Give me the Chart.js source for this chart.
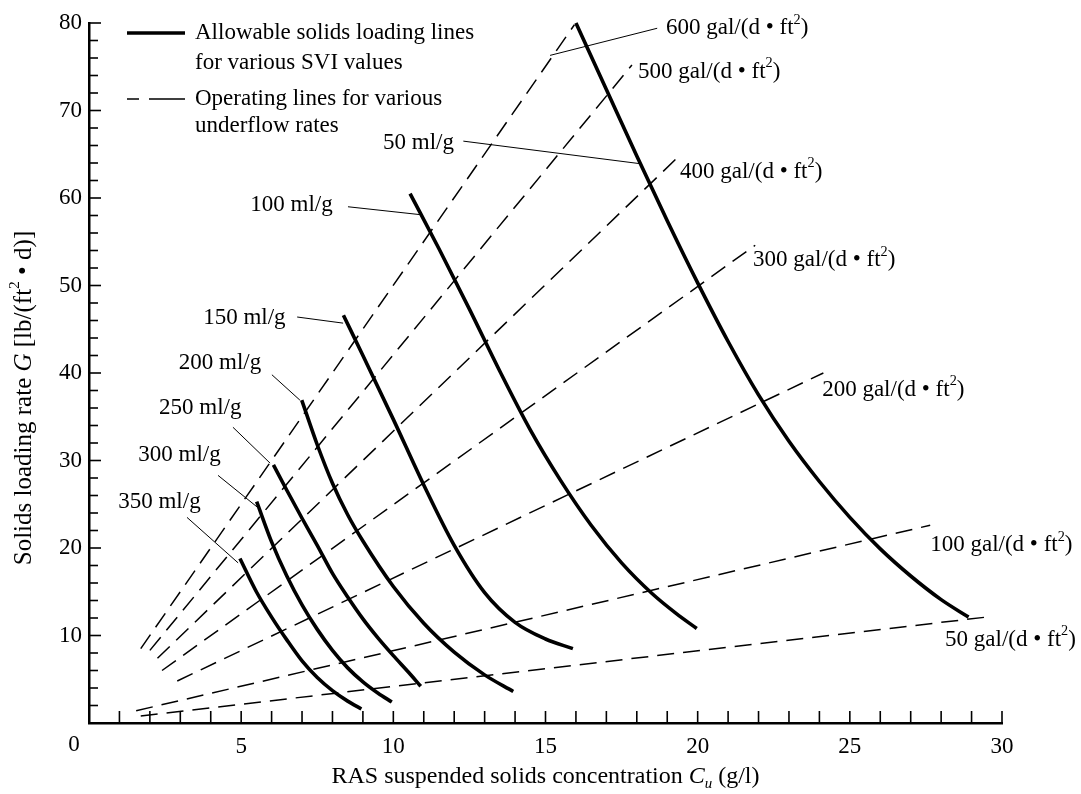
<!DOCTYPE html>
<html><head><meta charset="utf-8">
<script src="https://cdn.jsdelivr.net/npm/chart.js@4.4.0/dist/chart.umd.min.js"></script>
<style>html,body{margin:0;padding:0;background:#fff}#wrap{width:1081px;height:794px}</style>
</head><body><div id="wrap"><canvas id="c" width="1081" height="794"></canvas></div>
<script>
const FONT = '"Liberation Serif", "DejaVu Serif", serif';
const FS = 23;

// Allowable solids loading lines (SVI curves): x = Cu (g/l), y = G lb/(ft2 d)
const svi50x  = [16.0, 17.0, 18.0, 19.0, 20.0, 21.0, 22.0, 23.0, 24.0, 25.0, 26.0, 27.0, 28.0, 28.9];
const svi50y  = [80.0, 72.4, 64.8, 57.4, 50.3, 43.6, 37.5, 32.2, 27.6, 23.5, 19.9, 16.8, 14.1, 12.1];
const svi100x = [10.55, 11.5, 12.5, 13.5, 14.5, 15.5, 16.5, 17.5, 18.5, 19.3, 19.97];
const svi100y = [60.5, 54.2, 47.3, 40.2, 33.5, 27.7, 22.6, 18.3, 14.8, 12.5, 10.8];
const svi150x = [8.36, 9.0, 10.0, 11.0, 12.0, 13.0, 14.0, 15.0, 15.9];
const svi150y = [46.6, 42.0, 34.7, 27.2, 20.3, 14.9, 11.5, 9.6, 8.5];
const svi200x = [6.99, 7.5, 8.0, 8.5, 9.0, 10.0, 11.0, 12.0, 13.0, 13.94];
const svi200y = [36.9, 31.8, 27.4, 23.8, 20.8, 15.6, 11.4, 8.1, 5.5, 3.6];
const svi250x = [6.06, 6.5, 7.0, 7.5, 8.0, 8.5, 9.0, 9.5, 10.0, 10.5, 10.9];
const svi250y = [29.5, 26.6, 23.4, 20.3, 17.1, 14.4, 11.9, 9.7, 7.7, 5.8, 4.2];
const svi300x = [5.51, 6.0, 6.5, 7.0, 7.5, 8.0, 8.5, 9.0, 9.5, 9.95];
const svi300y = [25.3, 20.7, 16.8, 13.5, 10.7, 8.3, 6.3, 4.7, 3.4, 2.4];
const svi350x = [4.96, 5.5, 6.0, 6.5, 7.0, 7.5, 8.0, 8.5, 8.95];
const svi350y = [18.8, 15.0, 12.1, 9.5, 7.1, 5.2, 3.7, 2.5, 1.6];

// Operating lines (underflow rates, gal/(d ft2)): start and end points
const opRates  = [600, 500, 400, 300, 200, 100, 50];
const opStartX = [1.7, 2.0, 2.25, 2.4, 2.9, 1.55, 1.7];
const opStartY = [8.5, 8.3, 7.4, 6.0, 4.8, 1.4, 0.8];
const opEndX   = [15.95, 17.84, 19.42, 21.89, 24.13, 27.64, 29.6];
const opEndY   = [79.8, 75.2, 64.9, 54.6, 40.0, 22.6, 12.15];
const opLabelX = [18.96, 18.04, 19.42, 21.82, 24.09, 27.64, 28.13];
const opLabelY = [79.4, 74.4, 63.0, 52.9, 38.1, 20.3, 9.5];
// leader for the 600 label
const lead600X = [18.67, 15.15];
const lead600Y = [79.4, 76.3];

// SVI labels and leader lines
const sviLabels = ['50 ml/g', '100 ml/g', '150 ml/g', '200 ml/g', '250 ml/g', '300 ml/g', '350 ml/g'];
const sviLabelX = [9.66, 5.3, 3.75, 2.95, 2.3, 1.62, 0.96];
const sviLabelY = [66.3, 59.2, 46.3, 41.1, 36.0, 30.6, 25.3];
const sviLeadX0 = [12.3, 8.51, 6.84, 6.01, 4.73, 4.24, 3.22];
const sviLeadY0 = [66.5, 59.0, 46.4, 39.8, 33.8, 28.3, 23.5];
const sviLeadX1 = [18.16, 10.88, 8.35, 6.93, 5.95, 5.52, 4.9];
const sviLeadY1 = [63.9, 58.1, 45.7, 36.9, 29.7, 24.7, 18.3];

const xMin = 0, xMax = 30, xStep = 1, xLabelEvery = 5;
const yMin = 0, yMax = 80, yStep = 2, yLabelEvery = 10;

const pts = (xs, ys) => xs.map((x, i) => ({x, y: ys[i]}));

const datasets = [];
const sviSets = [[svi50x, svi50y], [svi100x, svi100y], [svi150x, svi150y], [svi200x, svi200y],
                 [svi250x, svi250y], [svi300x, svi300y], [svi350x, svi350y]];
sviSets.forEach(([xs, ys]) => datasets.push({
  data: pts(xs, ys), showLine: true, borderColor: '#000', borderWidth: 3.6,
  pointRadius: 0, cubicInterpolationMode: 'monotone', fill: false, clip: false
}));
opRates.forEach((r, i) => datasets.push({
  data: pts([opStartX[i], opEndX[i]], [opStartY[i], opEndY[i]]), showLine: true,
  borderColor: '#000', borderWidth: 1.5, borderDash: [17, 9], pointRadius: 0, clip: false
}));
sviLabels.forEach((l, i) => datasets.push({
  data: pts([sviLeadX0[i], sviLeadX1[i]], [sviLeadY0[i], sviLeadY1[i]]), showLine: true,
  borderColor: '#000', borderWidth: 1, pointRadius: 0, clip: false
}));
datasets.push({ data: pts(lead600X, lead600Y), showLine: true, borderColor: '#000', borderWidth: 1, pointRadius: 0, clip: false });

function drawRuns(ctx, runs, x, y, size, measureOnly) {
  let cx = x;
  for (const [t, k] of runs) {
    let fs = size, dy = 0, style = '';
    if (k === 'sup') { fs = size * 0.62; dy = -size * 0.36; }
    if (k === 'sub') { fs = size * 0.62; dy = size * 0.28; style = 'italic '; }
    if (k === 'i') style = 'italic ';
    ctx.font = style + fs + 'px ' + FONT;
    if (!measureOnly) ctx.fillText(t, cx, y + dy);
    cx += ctx.measureText(t).width;
  }
  return cx - x;
}

const decor = {
  id: 'decor',
  afterDraw(chart) {
    const ctx = chart.ctx, xs = chart.scales.x, ys = chart.scales.y;
    const X = v => xs.getPixelForValue(v), Y = v => ys.getPixelForValue(v);
    ctx.save();
    ctx.strokeStyle = '#000'; ctx.fillStyle = '#000';
    // inward tick marks
    ctx.lineWidth = 1.6;
    ys.ticks.forEach(t => {
      if (t.value === yMin) return;
      const len = t.value % yLabelEvery === 0 ? 12 : 9;
      const p = Y(t.value);
      ctx.beginPath(); ctx.moveTo(xs.left, p); ctx.lineTo(xs.left + len, p); ctx.stroke();
    });
    xs.ticks.forEach(t => {
      if (t.value === xMin) return;
      const p = X(t.value);
      ctx.beginPath(); ctx.moveTo(p, ys.bottom); ctx.lineTo(p, ys.bottom - 12); ctx.stroke();
    });
    // origin label
    ctx.font = FS + 'px ' + FONT; ctx.textAlign = 'center'; ctx.textBaseline = 'middle';
    ctx.fillText('0', X(0) - 15, ys.bottom + 22);
    ctx.textAlign = 'left';
    // SVI labels
    sviLabels.forEach((l, i) => { ctx.font = FS + 'px ' + FONT; ctx.fillText(l, X(sviLabelX[i]), Y(sviLabelY[i])); });
    // rate labels
    opRates.forEach((r, i) => {
      drawRuns(ctx, [[r + ' gal/(d \u2022 ft', ''], ['2', 'sup'], [')', '']], X(opLabelX[i]), Y(opLabelY[i]), FS);
    });
    // legend
    ctx.lineWidth = 3.6;
    ctx.beginPath(); ctx.moveTo(127, 33); ctx.lineTo(185, 33); ctx.stroke();
    ctx.lineWidth = 1.5;
    ctx.beginPath(); ctx.moveTo(127, 99); ctx.lineTo(139, 99); ctx.moveTo(149, 99); ctx.lineTo(185, 99); ctx.stroke();
    ctx.font = FS + 'px ' + FONT;
    ctx.fillText('Allowable solids loading lines', 195, 33);
    ctx.fillText('for various SVI values', 195, 63);
    ctx.fillText('Operating lines for various', 195, 99);
    ctx.fillText('underflow rates', 195, 126);
    // x title
    const xr = [['RAS suspended solids concentration ', ''], ['C', 'i'], ['u', 'sub'], [' (g/l)', '']];
    const w = drawRuns(ctx, xr, 0, 0, 24, true);
    drawRuns(ctx, xr, (xs.left + xs.right) / 2 - w / 2, 777, 24);
    // y title
    const yr = [['Solids loading rate ', ''], ['G', 'i'], [' [lb/(ft', ''], ['2', 'sup'], [' \u2022 d)]', '']];
    const wy = drawRuns(ctx, yr, 0, 0, 25, true);
    ctx.translate(24, 398); ctx.rotate(-Math.PI / 2);
    drawRuns(ctx, yr, -wy / 2, 0, 25);
    ctx.restore();
  }
};

new Chart(document.getElementById('c'), {
  type: 'scatter',
  data: { datasets },
  options: {
    responsive: false, animation: false, devicePixelRatio: 1,
    layout: { padding: { top: 23, right: 79, left: 0, bottom: 0 } },
    plugins: { legend: { display: false }, tooltip: { enabled: false } },
    scales: {
      x: {
        type: 'linear', min: xMin, max: xMax,
        afterFit: s => { s.height = 71; },
        grid: { display: true, drawOnChartArea: false, drawTicks: false },
        border: { display: true, color: '#000', width: 2.5 },
        ticks: { stepSize: xStep, autoSkip: false, maxRotation: 0, padding: 10, color: '#000',
                 font: { family: FONT, size: FS },
                 callback: v => (v % xLabelEvery === 0 && v !== xMin) ? v : '' }
      },
      y: {
        type: 'linear', min: yMin, max: yMax,
        afterFit: s => { s.width = 89; },
        grid: { display: true, drawOnChartArea: false, drawTicks: false },
        border: { display: true, color: '#000', width: 2.5 },
        ticks: { stepSize: yStep, autoSkip: false, padding: 7, color: '#000',
                 font: { family: FONT, size: FS },
                 callback: v => (v % yLabelEvery === 0 && v !== yMin) ? v : '' }
      }
    }
  },
  plugins: [decor]
});
</script></body></html>
